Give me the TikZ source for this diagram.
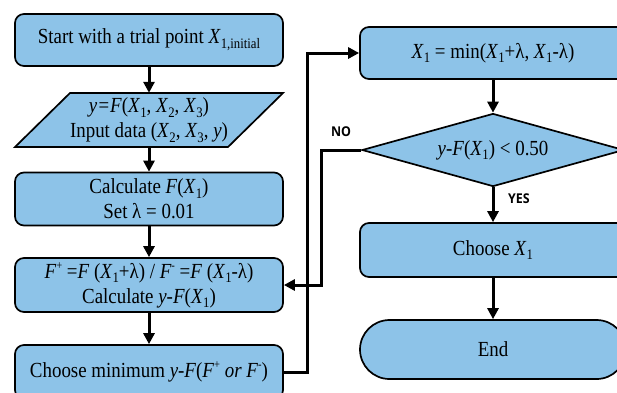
\documentclass[tikz,border=0pt]{standalone}
\usepackage{fontspec}
\setmainfont[FakeStretch=0.88]{Liberation Serif}
\newfontfamily\lblfont[FakeStretch=0.92]{Open Sans}
\usetikzlibrary{arrows.meta,shapes.misc,shapes.geometric}
\definecolor{boxblue}{RGB}{141,195,232}
\newcommand{\sbs}[1]{\raisebox{-0.22em}{\fontsize{14.5}{14.5}\selectfont #1}}
\newcommand{\sps}[1]{\raisebox{0.42em}{\fontsize{12}{12}\selectfont #1}}
\newcommand{\iv}[1]{\textit{#1}}
\begin{document}
\begin{tikzpicture}[x=1pt,y=-1pt,
  font=\fontsize{21.5}{25}\selectfont,
  box/.style={draw, fill=boxblue, line width=1.7pt, rounded corners=9pt, minimum width=268pt, minimum height=53pt, align=center, inner sep=0pt},
  rbox/.style={box, minimum width=266pt},
  conn/.style={line width=3pt, -{Triangle[length=11pt,width=11pt]}},
  lbl/.style={font=\lblfont\bfseries\fontsize{13.5}{13.5}\selectfont}]
\useasboundingbox (0,0) rectangle (617,392);
\clip (0,0) rectangle (617,392);
% left column
\node[box, minimum height=52pt] (start) at (149,40) {Start with a trial point \iv{X}\sbs{1,initial}};
\coordinate (pBL) at (15,147);
\coordinate (pTL) at (70,93);
\coordinate (pTR) at (283,93);
\coordinate (pBR) at (228,147);
\draw[fill=boxblue, line width=1.7pt, line join=miter] (pBL) -- (pTL) -- (pTR) -- (pBR) -- cycle;
\node[align=center, inner sep=0pt, minimum height=54pt] (para) at (149,120) {\iv{y=F}(\iv{X}\sbs{1}, \iv{X}\sbs{2}, \iv{X}\sbs{3})\\Input data (\iv{X}\sbs{2}, \iv{X}\sbs{3}, \iv{y})};
\node[box] (calc) at (149,199) {Calculate \iv{F}(\iv{X}\sbs{1})\\Set λ = 0.01};
\node[box, minimum height=54pt] (fpm) at (149,285) {\iv{F}\sps{+} =\iv{F} (\iv{X}\sbs{1}+λ) / \iv{F}\sps{-} =\iv{F} (\iv{X}\sbs{1}-λ)\\Calculate \iv{y-F}(\iv{X}\sbs{1})};
\node[box, minimum height=54pt] (cmin) at (149,372) {Choose minimum \iv{y-F}(\iv{F}\sps{+} \iv{or} \iv{F}\sps{-})};
% right column
\node[rbox, minimum height=52pt] (xmin) at (493,53) {\iv{X}\sbs{1} = min(\iv{X}\sbs{1}+λ, \iv{X}\sbs{1}-λ)};
\node[diamond, draw, fill=boxblue, line width=1.7pt, minimum width=262pt, minimum height=73pt, aspect=3.6, inner sep=0pt] (dia) at (493,150) {\iv{y-F}(\iv{X}\sbs{1}) < 0.50};
\node[rbox, minimum height=54pt] (chx) at (493,250) {Choose \iv{X}\sbs{1}};
\node[rounded rectangle, draw, fill=boxblue, line width=1.7pt, minimum width=266pt, minimum height=59pt, inner sep=0pt] (end) at (493,349.5) {End};
% connectors
\draw[conn] (start.south) -- (para.north);
\draw[conn] (para.south) -- (calc.north);
\draw[conn] (calc.south) -- (fpm.north);
\draw[conn] (fpm.south) -- (cmin.north);
\draw[conn] (xmin.south) -- (dia.north);
\draw[conn] (dia.south) -- (chx.north);
\draw[conn] (chx.south) -- (end.north);
\draw[conn] (dia.west) -- ++(-40,0) |- (fpm.east);
\draw[conn] (cmin.east) -- ++(24,0) |- (xmin.west);
\node[lbl] (no) at (341,132) {NO};
\node[lbl] (yes) at (519,199) {YES};
\end{tikzpicture}
\end{document}
